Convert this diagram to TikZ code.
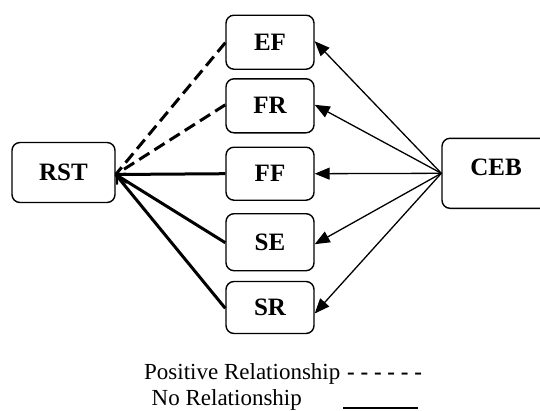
\documentclass[tikz,border=0pt]{standalone}
\usepackage{fontspec}
\setmainfont{Liberation Serif}
\usetikzlibrary{arrows.meta,calc}
\tikzset{
  box/.style={draw, line width=1.4pt, rounded corners=8pt, inner sep=0pt, font=\fontsize{25}{28}\selectfont\bfseries},
  rel/.style={line width=1.3pt, -{Triangle[length=15pt,width=12pt]}},
  posrel/.style={line width=3pt, dash pattern=on 12pt off 6pt},
  norel/.style={line width=3pt},
  legend/.style={font=\fontsize{23}{26}\selectfont, inner sep=0pt, anchor=base west}
}
\begin{document}
\begin{tikzpicture}[x=1pt,y=-1pt]
\useasboundingbox (0,0) rectangle (540,410);
\node[box, minimum width=103pt, minimum height=60pt] (RST) at (63.5,172.5) {RST};
\node[box, minimum width=88pt, minimum height=54pt] (EF) at (270,42.2) {EF};
\node[box, minimum width=88pt, minimum height=54pt] (FR) at (270,105.8) {FR};
\node[box, minimum width=88pt, minimum height=53pt] (FF) at (270,173.7) {FF};
\node[box, minimum width=88pt, minimum height=57pt] (SE) at (270,242.2) {SE};
\node[box, minimum width=88pt, minimum height=52pt] (SR) at (270,307.5) {SR};
\node[box, minimum width=108pt, minimum height=70pt, text depth=13pt] (CEB) at (496,173.3) {CEB};
\coordinate (ceb) at ([yshift=0pt]CEB.west);
\coordinate (rst) at ([yshift=-2pt]RST.east);
% CEB arrows
\draw[rel] (ceb) -- ([yshift=1pt]EF.east);
\draw[rel] (ceb) -- ([yshift=1pt]FR.east);
\draw[rel] (ceb) -- (FF.east);
\draw[rel] (ceb) -- ([yshift=-2pt]SE.east);
\draw[rel] (ceb) -- ([yshift=-6pt]SR.east);
% RST relations
\draw[posrel, line cap=butt] ([yshift=-0.5pt]EF.west) -- (rst);
\draw[line width=2pt, {Straight Barb[length=6pt,width=14pt]}-] (rst) -- ++(-38:14pt);
\draw[posrel] ([yshift=1pt]FR.west) -- (rst);
\draw[norel] (FF.west) -- (rst);
\draw[norel] ([yshift=-0.5pt]SE.west) -- (rst);
\draw[norel] ([yshift=-0.8pt]SR.west) -- (rst);
% legend
\node[legend] (pos) at (144,379) {Positive Relationship};
\node[legend] (posdash) at (347,379) {\textbf{- - - - - -}};
\node[legend] (no) at (151.5,405.5) {No Relationship};
\coordinate (nol) at (343,408);
\coordinate (nor) at (418,408);
\draw[line width=2pt] (nol) -- (nor);
\end{tikzpicture}
\end{document}
